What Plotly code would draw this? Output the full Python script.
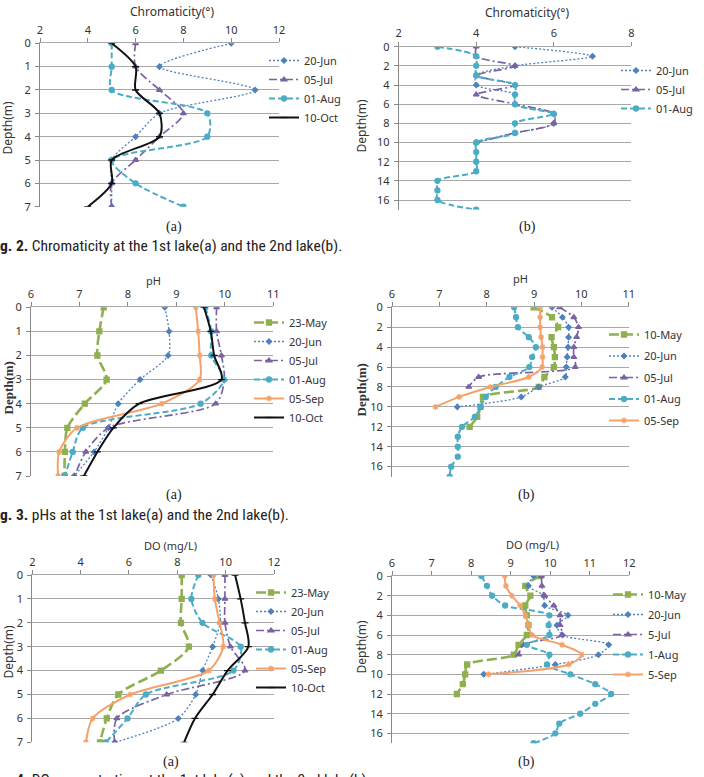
import plotly.graph_objects as go

W, H = 704, 777

# ---------------- data ----------------
# Fig. 2  Chromaticity, 1st lake (a)
chroma1_depth = [0, 1, 2, 3, 4, 5, 6, 7]
chroma1_jun20 = [10, 7, 11, 7, 6, 5, 5, 5]
chroma1_jul05 = [6, 6, 7, 8, 7, 6, 5, 5]
chroma1_aug01 = [5, 5, 5, 9, 9, 5, 6, 8]
chroma1_oct10 = [5, 6, 6, 7, 7, 5, 5, 4]

# Fig. 2  Chromaticity, 2nd lake (b)
chroma2_depth_jun20 = [0, 1, 2, 3, 4, 5, 6, 7, 8, 9, 10]
chroma2_jun20 = [5, 7, 5, 4, 4, 5, 5, 6, 6, 5, 4]
chroma2_depth_jul05 = [0, 1, 2, 3, 4, 5, 6, 7, 8, 9, 10]
chroma2_jul05 = [4, 4, 5, 4, 5, 4, 5, 6, 6, 5, 4]
chroma2_depth_aug01 = [0, 1, 2, 3, 4, 5, 6, 7, 8, 9, 10, 11, 12, 13, 14, 15, 16, 17]
chroma2_aug01 = [3, 4, 4, 4, 5, 5, 5, 6, 5, 5, 4, 4, 4, 4, 3, 3, 3, 4]

# Fig. 3  pH, 1st lake (a)
ph1_depth = [0, 1, 2, 3, 4, 5, 6, 7]
ph1_may23 = [7.50, 7.41, 7.37, 7.56, 7.11, 6.75, 6.70, 6.69]
ph1_jun20 = [8.76, 8.85, 8.83, 8.25, 7.80, 7.60, 7.30, 6.89]
ph1_jul05 = [9.83, 9.83, 9.93, 9.99, 9.81, 7.60, 7.13, 6.90]
ph1_aug01 = [9.60, 9.72, 9.72, 9.98, 9.50, 7.07, 6.86, 6.70]
ph1_sep05 = [9.40, 9.45, 9.48, 9.48, 8.70, 6.95, 6.58, 6.56]
ph1_oct10 = [9.57, 9.71, 9.78, 9.93, 8.23, 7.70, 7.37, 7.09]

# Fig. 3  pH, 2nd lake (b)
ph2_depth_may10 = [0, 1, 2, 3, 4, 5, 6, 7, 8, 9, 10, 11, 12]
ph2_may10 = [8.99, 9.38, 9.51, 9.37, 9.42, 9.44, 9.42, 9.22, 9.10, 7.92, 7.87, 7.80, 7.64]
ph2_depth_jun20 = [0, 1, 2, 3, 4, 5, 6, 7, 8, 9, 10]
ph2_jun20 = [9.38, 9.60, 9.73, 9.73, 9.72, 9.70, 9.68, 9.66, 9.10, 8.73, 7.38]
ph2_depth_jul05 = [0, 1, 2, 3, 4, 5, 6, 7, 8]
ph2_jul05 = [9.54, 9.84, 9.94, 9.90, 9.84, 9.84, 9.87, 7.83, 7.62]
ph2_depth_aug01 = [0, 1, 2, 3, 4, 5, 6, 7, 8, 9, 10, 11, 12, 13, 14, 15, 16, 17]
ph2_aug01 = [8.58, 8.62, 8.66, 8.89, 9.04, 8.96, 8.90, 8.48, 8.19, 7.98, 7.87, 7.75,
             7.48, 7.39, 7.39, 7.39, 7.25, 7.22]
ph2_depth_sep05 = [0, 1, 2, 3, 4, 5, 6, 7, 8, 9, 10]
ph2_sep05 = [9.13, 9.13, 9.13, 9.15, 9.18, 9.18, 9.17, 8.89, 8.08, 7.42, 6.92]

# Fig. 4  DO, 1st lake (a)
do1_depth = [0, 1, 2, 3, 4, 5, 6, 7]
do1_may23 = [8.18, 8.18, 8.15, 8.48, 7.32, 5.56, 5.08, 4.80]
do1_jun20 = [9.39, 9.70, 9.77, 9.46, 9.05, 8.76, 8.04, 5.42]
do1_jul05 = [9.97, 9.97, 9.97, 10.20, 10.80, 7.56, 5.50, 5.40]
do1_aug01 = [8.87, 8.58, 9.04, 10.62, 10.32, 6.70, 5.94, 5.04]
do1_sep05 = [9.50, 9.55, 9.75, 9.90, 9.30, 6.05, 4.50, 4.22]
do1_oct10 = [10.39, 10.62, 10.80, 10.94, 10.08, 9.46, 8.73, 8.28]

# Fig. 4  DO, 2nd lake (b)
do2_depth_may10 = [0, 1, 2, 3, 4, 5, 6, 7, 8, 9, 10, 11, 12]
do2_may10 = [9.75, 9.37, 9.50, 9.37, 9.41, 9.45, 9.41, 9.20, 9.08, 7.90, 7.85, 7.79, 7.64]
do2_depth_jun20 = [0, 1, 2, 3, 4, 5, 6, 7, 8, 9, 10]
do2_jun20 = [9.58, 9.45, 9.83, 9.86, 10.45, 10.17, 10.31, 11.48, 11.22, 10.13, 8.32]
do2_depth_jul05 = [0, 1, 2, 3, 4, 5, 6, 7, 8]
do2_jul05 = [9.78, 9.79, 9.86, 10.09, 10.25, 10.25, 10.30, 9.33, 9.20]
do2_depth_aug01 = [0, 1, 2, 3, 4, 5, 6, 7, 8, 9, 10, 11, 12, 13, 14, 15, 16, 17]
do2_aug01 = [8.26, 8.40, 8.53, 8.86, 9.98, 9.96, 9.98, 9.41, 9.98, 9.92, 10.51, 11.14,
             11.54, 11.14, 10.76, 10.23, 10.13, 9.58]
do2_depth_sep05 = [0, 1, 2, 3, 4, 5, 6, 7, 8, 9, 10]
do2_sep05 = [8.85, 8.88, 9.03, 9.24, 9.37, 9.45, 9.54, 10.30, 10.80, 10.47, 8.44]

# ---------------- styles ----------------
STY = {
    "may": dict(color="#8FB04F", dash="10px,4px", width=2.6, symbol="square", size=5),
    "jun": dict(color="#4F81BD", dash="2px,2px", width=1.3, symbol="diamond", size=4),
    "jul": dict(color="#7B62A3", dash="8px,3px,2px,3px", width=1.7, symbol="triangle-up", size=5),
    "aug": dict(color="#4BACC6", dash="6px,3px", width=2.0, symbol="circle", size=5),
    "sep": dict(color="#F5A26A", dash="solid", width=2.0, symbol="asterisk-open", size=5),
    "oct": dict(color="#111111", dash="solid", width=2.0, symbol="line-ew-open", size=5),
}

fig = go.Figure()


def add(x, y, name, key, k, group):
    s = STY[key]
    sfx = "" if k == 1 else str(k)
    fig.add_trace(go.Scatter(
        x=x, y=y, name=name, mode="lines+markers",
        line=dict(color=s["color"], dash=s["dash"], width=s["width"], shape="spline", smoothing=0.8),
        marker=dict(symbol=s["symbol"], size=s["size"], color=s["color"],
                    line=dict(color=s["color"], width=1.3)),
        xaxis="x" + sfx, yaxis="y" + sfx, legend="legend" + sfx,
        legendgroup=f"g{k}_{group}",
    ))


# panel 1
add(chroma1_jun20, chroma1_depth, "20-Jun", "jun", 1, 1)
add(chroma1_jul05, chroma1_depth, "05-Jul", "jul", 1, 2)
add(chroma1_aug01, chroma1_depth, "01-Aug", "aug", 1, 3)
add(chroma1_oct10, chroma1_depth, "10-Oct", "oct", 1, 4)
# panel 2
add(chroma2_jun20, chroma2_depth_jun20, "20-Jun", "jun", 2, 1)
add(chroma2_jul05, chroma2_depth_jul05, "05-Jul", "jul", 2, 2)
add(chroma2_aug01, chroma2_depth_aug01, "01-Aug", "aug", 2, 3)
# panel 3
add(ph1_may23, ph1_depth, "23-May", "may", 3, 1)
add(ph1_jun20, ph1_depth, "20-Jun", "jun", 3, 2)
add(ph1_jul05, ph1_depth, "05-Jul", "jul", 3, 3)
add(ph1_aug01, ph1_depth, "01-Aug", "aug", 3, 4)
add(ph1_sep05, ph1_depth, "05-Sep", "sep", 3, 5)
add(ph1_oct10, ph1_depth, "10-Oct", "oct", 3, 6)
# panel 4
add(ph2_may10, ph2_depth_may10, "10-May", "may", 4, 1)
add(ph2_jun20, ph2_depth_jun20, "20-Jun", "jun", 4, 2)
add(ph2_jul05, ph2_depth_jul05, "05-Jul", "jul", 4, 3)
add(ph2_aug01, ph2_depth_aug01, "01-Aug", "aug", 4, 4)
add(ph2_sep05, ph2_depth_sep05, "05-Sep", "sep", 4, 5)
# panel 5
add(do1_may23, do1_depth, "23-May", "may", 5, 1)
add(do1_jun20, do1_depth, "20-Jun", "jun", 5, 2)
add(do1_jul05, do1_depth, "05-Jul", "jul", 5, 3)
add(do1_aug01, do1_depth, "01-Aug", "aug", 5, 4)
add(do1_sep05, do1_depth, "05-Sep", "sep", 5, 5)
add(do1_oct10, do1_depth, "10-Oct", "oct", 5, 6)
# panel 6
add(do2_may10, do2_depth_may10, "10-May", "may", 6, 1)
add(do2_jun20, do2_depth_jun20, "20-Jun", "jun", 6, 2)
add(do2_jul05, do2_depth_jul05, "5-Jul", "jul", 6, 3)
add(do2_aug01, do2_depth_aug01, "1-Aug", "aug", 6, 4)
add(do2_sep05, do2_depth_sep05, "5-Sep", "sep", 6, 5)

# ---------------- layout ----------------
TICKFONT = dict(family="Noto Sans, Open Sans, sans-serif", size=11, color="#333333")
GRID = "#A8A8A8"

# (x range, x dtick, y range, y dtick, pixel box x0, x1, y0, y1)
PANELS = {
    1: ([2, 12], 2, [7, 0], 1, 40, 279, 43.3, 206.7),
    2: ([2, 8], 2, [17, 0], 2, 398.7, 631.3, 46.7, 209.6),
    3: ([6, 11], 1, [7, 0], 1, 31, 273.3, 307.3, 476),
    4: ([6, 11], 1, [17, 0], 2, 392, 628.7, 307.3, 476.6),
    5: ([2, 12], 2, [7, 0], 1, 32.3, 274, 575, 742.3),
    6: ([6, 12], 1, [17, 0], 2, 392, 629.3, 576, 743.2),
}

lay = {}
for k, (xr, xd, yr, yd, x0, x1, y0, y1) in PANELS.items():
    sfx = "" if k == 1 else str(k)
    lay["xaxis" + sfx] = dict(
        domain=[x0 / W, x1 / W], range=xr, dtick=xd, side="top", anchor="y" + sfx,
        showgrid=False, zeroline=False, showline=True, linecolor=GRID, linewidth=1,
        ticks="outside", ticklen=4, tickcolor="#888888", tickfont=TICKFONT,
        automargin=False, fixedrange=True,
    )
    lay["yaxis" + sfx] = dict(
        domain=[1 - y1 / H, 1 - y0 / H], range=yr, dtick=yd, anchor="x" + sfx,
        showgrid=True, gridcolor=GRID, gridwidth=1, zeroline=False,
        showline=True, linecolor="#888888", linewidth=1,
        ticks="outside", ticklen=4, tickcolor="#888888", tickfont=TICKFONT,
        ticklabelstandoff=2, automargin=False, fixedrange=True,
    )

LEGFONT = dict(family="Noto Sans, Open Sans, sans-serif", size=11, color="#333333")
# (text-start px x, first-entry centre px y, group gap)
LEGENDS = {
    1: (306, 57, 0),
    2: (658, 67, 0),
    3: (291, 319, 0),
    4: (646, 331, 2.5),
    5: (293, 589, 0),
    6: (650, 591, 1),
}
for k, (tx, ty, gap) in LEGENDS.items():
    sfx = "" if k == 1 else str(k)
    lay["legend" + sfx] = dict(
        x=(tx - 42) / W, y=1 - (ty - 11) / H, xanchor="left", yanchor="top",
        bgcolor="rgba(0,0,0,0)", font=LEGFONT, itemwidth=30, tracegroupgap=gap,
        borderwidth=0,
    )

ann = []


def text(x, y, s, size=12, family="Noto Sans, sans-serif", angle=0, xanchor="center", color="#333333"):
    ann.append(dict(x=x / W, y=1 - y / H, xref="paper", yref="paper", text=s, showarrow=False,
                    textangle=angle, xanchor=xanchor, yanchor="middle",
                    font=dict(size=size, family=family, color=color)))


# axis titles
text(172, 11, "Chromaticity(°)", 12)
text(527, 12.5, "Chromaticity(°)", 12)
text(153, 280, "pH", 11)
text(520, 278.5, "pH", 11)
text(170, 545.5, "DO (mg/L)", 11)
text(532, 544, "DO (mg/L)", 11)
text(7.5, 128, "Depth(m)", 12, angle=-90)
text(360.5, 126, "Depth(m)", 12, angle=-90)
SERIF = "Liberation Serif, DejaVu Serif, serif"
text(7.5, 388, "<b>Depth(m)</b>", 13, family=SERIF, angle=-90)
text(360.5, 390, "<b>Depth(m)</b>", 13, family=SERIF, angle=-90)
text(7.5, 652, "Depth(m)", 12, angle=-90)
text(360.5, 647, "Depth(m)", 12, angle=-90)

# sub-figure labels
for (x, y, s) in [(174, 227, "(a)"), (527, 227, "(b)"), (174, 495, "(a)"), (526, 495, "(b)"),
                  (171, 762, "(a)"), (526, 762, "(b)")]:
    text(x, y, s, 14, family=SERIF, color="#222222")

# captions
CAP = "Liberation Sans Narrow, Roboto Condensed, Noto Sans, sans-serif"
text(-2, 245.5, "<b>g. 2.</b> Chromaticity at the 1st lake(a) and the 2nd lake(b).", 15.5,
     family=CAP, xanchor="left", color="#222222")
text(-2, 515, "<b>g. 3.</b> pHs at the 1st lake(a) and the 2nd lake(b).", 15.5,
     family=CAP, xanchor="left", color="#222222")
text(-2, 780, "<b>g. 4.</b> DO concentration at the 1st lake(a) and the 2nd lake(b).", 15.5,
     family=CAP, xanchor="left", color="#222222")

fig.update_layout(
    width=W, height=H, margin=dict(l=0, r=0, t=0, b=0),
    paper_bgcolor="white", plot_bgcolor="white",
    annotations=ann, showlegend=True, **lay,
)

fig.write_html("out.html")
